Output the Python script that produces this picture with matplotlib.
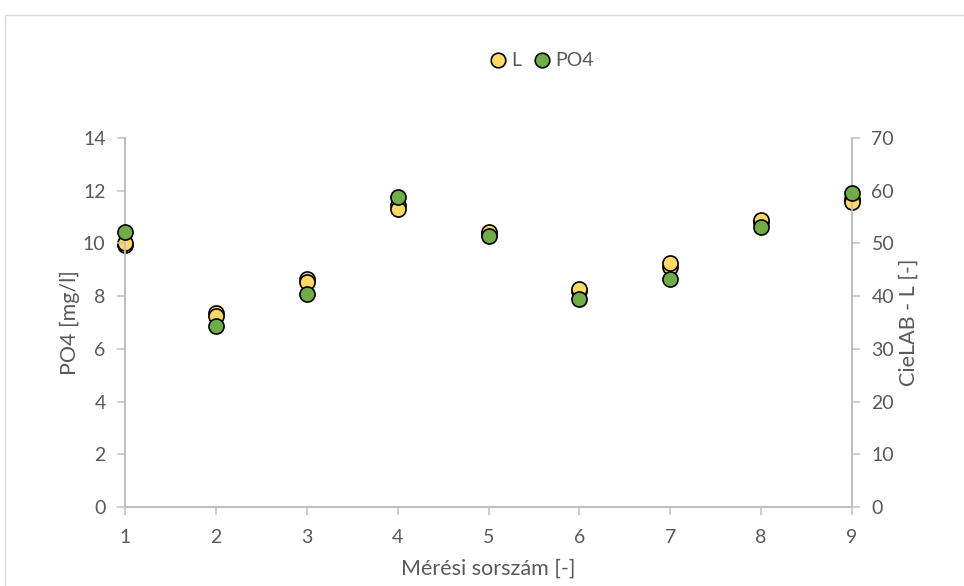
import matplotlib
matplotlib.use("Agg")
import matplotlib.pyplot as plt
from matplotlib.patches import Rectangle
from matplotlib.lines import Line2D

plt.rcParams['font.family'] = ['Lato', 'DejaVu Sans']

# Measurement index (x axis)
meres = [1, 2, 3, 4, 5, 6, 7, 8, 9]

# CieLAB L values, two repeated readings per measurement (right axis)
L_a = [50.1, 36.3, 42.7, 56.5, 52.2, 41.4, 46.2, 54.4, 57.9]
L_b = [49.7, 36.8, 43.3, 57.3, 51.8, 41.0, 45.6, 54.1, 58.4]

# Phosphate concentration (left axis)
po4 = [10.45, 6.88, 8.09, 11.75, 10.29, 7.90, 8.65, 10.63, 11.90]

yellow = '#FFD966'
green = '#70AD47'
grey_axis = '#BFBFBF'
grey_text = '#595959'

fig = plt.figure(figsize=(9.64, 5.86), dpi=100)

# Outer chart frame
fig.patches.append(Rectangle((5 / 964, -0.1), 1.2, 1 - 15 / 586 + 0.1,
                             transform=fig.transFigure, fill=False,
                             edgecolor='#D9D9D9', linewidth=1.0))

ax = fig.add_axes([125 / 964, 1 - 507 / 586, (852 - 125) / 964, (507 - 138) / 586])
ax2 = ax.twinx()

ms = 118
ax2.scatter(meres, L_b, s=ms, color=yellow, edgecolor='black', linewidth=1.2,
            clip_on=False, zorder=3)
ax2.scatter(meres, L_a, s=ms, color=yellow, edgecolor='black', linewidth=1.2,
            clip_on=False, zorder=3)
ax.scatter(meres, po4, s=ms, color=green, edgecolor='black', linewidth=1.2,
           clip_on=False, zorder=4)

ax.set_zorder(ax2.get_zorder() + 1)
ax.patch.set_visible(False)

ax.set_xlim(1, 9)
ax.set_ylim(0, 14)
ax2.set_ylim(0, 70)
ax.set_xticks(meres)
ax.set_yticks(range(0, 15, 2))
ax2.set_yticks(range(0, 71, 10))

for a in (ax, ax2):
    a.spines['top'].set_visible(False)
    for side in ('left', 'right', 'bottom'):
        a.spines[side].set_color(grey_axis)
        a.spines[side].set_linewidth(1.3)
    a.tick_params(colors=grey_axis, labelcolor=grey_text, labelsize=14,
                  length=6, width=1.1, direction='out')
ax.tick_params(axis='x', pad=10)
ax.tick_params(axis='y', pad=8)
ax2.tick_params(axis='y', pad=8)

ax.set_xlabel('Mérési sorszám [-]', fontsize=15.5, color=grey_text, labelpad=9)
ax.set_ylabel('PO4 [mg/l]', fontsize=15.5, color=grey_text, labelpad=2)
ax2.set_ylabel('CieLAB - L [-]', fontsize=15.5, color=grey_text, labelpad=3)

handles = [
    Line2D([], [], marker='o', linestyle='none', markersize=10.5,
           markerfacecolor=yellow, markeredgecolor='black', markeredgewidth=1.2, label='L'),
    Line2D([], [], marker='o', linestyle='none', markersize=10.5,
           markerfacecolor=green, markeredgecolor='black', markeredgewidth=1.2, label='PO4'),
]
leg = fig.legend(handles=handles, loc='center', bbox_to_anchor=(540 / 964, 1 - 61 / 586),
                 ncol=2, frameon=False, fontsize=14, handletextpad=0.05,
                 columnspacing=0.5, handlelength=1.2)
for t in leg.get_texts():
    t.set_color(grey_text)

fig.savefig('out.png', dpi=100)
